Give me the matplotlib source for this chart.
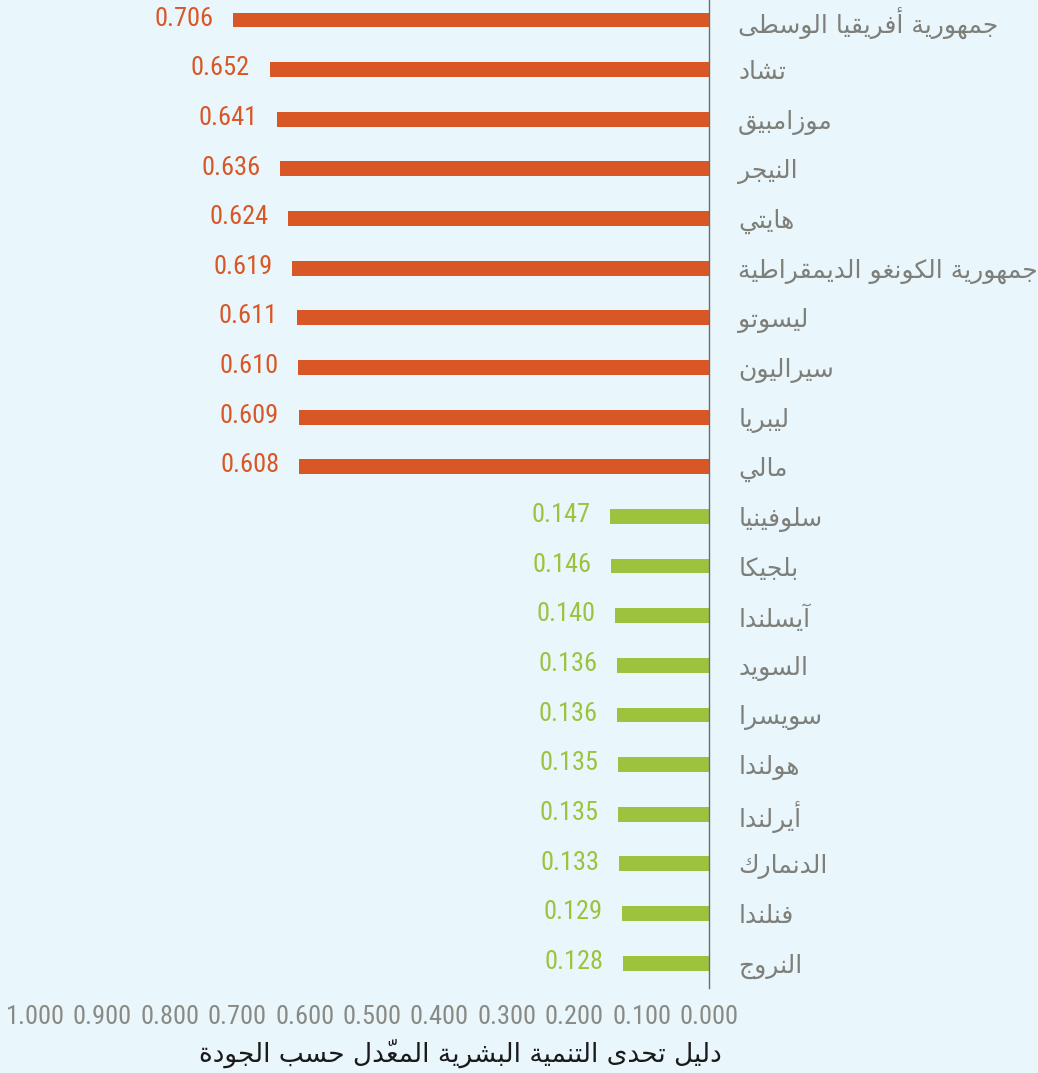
"""Quality-adjusted HDI challenge index: bottom and top ten countries."""

import matplotlib
matplotlib.use("Agg")
import matplotlib.pyplot as plt
from matplotlib import font_manager
from matplotlib.ticker import FixedLocator, FuncFormatter


COUNTRIES = [
    "جمهورية أفريقيا الوسطى",
    "تشاد",
    "موزامبيق",
    "النيجر",
    "هايتي",
    "جمهورية الكونغو الديمقراطية",
    "ليسوتو",
    "سيراليون",
    "ليبريا",
    "مالي",
    "سلوفينيا",
    "بلجيكا",
    "آيسلندا",
    "السويد",
    "سويسرا",
    "هولندا",
    "أيرلندا",
    "الدنمارك",
    "فنلندا",
    "النروج",
]
VALUES = [0.706, 0.652, 0.641, 0.636, 0.624, 0.619, 0.611, 0.610, 0.609, 0.608,
          0.147, 0.146, 0.140, 0.136, 0.136, 0.135, 0.135, 0.133, 0.129, 0.128]
GROUP = ["low"] * 10 + ["high"] * 10
X_TICKS = [1.0, 0.9, 0.8, 0.7, 0.6, 0.5, 0.4, 0.3, 0.2, 0.1, 0.0]
X_LABEL = "دليل تحدى التنمية البشرية المعدّل حسب الجودة"

COLORS = {"low": "#d95726", "high": "#9dc33e"}
BG = "#e9f6fb"


# presentation forms B: first code point (isolated) and number of forms
ARABIC_FORMS = {
    "ء": (0xFE80, 1), "آ": (0xFE81, 2), "أ": (0xFE83, 2), "ؤ": (0xFE85, 2),
    "إ": (0xFE87, 2), "ئ": (0xFE89, 4), "ا": (0xFE8D, 2), "ب": (0xFE8F, 4),
    "ة": (0xFE93, 2), "ت": (0xFE95, 4), "ث": (0xFE99, 4), "ج": (0xFE9D, 4),
    "ح": (0xFEA1, 4), "خ": (0xFEA5, 4), "د": (0xFEA9, 2), "ذ": (0xFEAB, 2),
    "ر": (0xFEAD, 2), "ز": (0xFEAF, 2), "س": (0xFEB1, 4), "ش": (0xFEB5, 4),
    "ص": (0xFEB9, 4), "ض": (0xFEBD, 4), "ط": (0xFEC1, 4), "ظ": (0xFEC5, 4),
    "ع": (0xFEC9, 4), "غ": (0xFECD, 4), "ف": (0xFED1, 4), "ق": (0xFED5, 4),
    "ك": (0xFED9, 4), "ل": (0xFEDD, 4), "م": (0xFEE1, 4), "ن": (0xFEE5, 4),
    "ه": (0xFEE9, 4), "و": (0xFEED, 2), "ى": (0xFEEF, 2), "ي": (0xFEF1, 4),
}
LAM_ALEF = {"آ": 0xFEF5, "أ": 0xFEF7, "إ": 0xFEF9, "ا": 0xFEFB}


def is_mark(ch):
    return 0x064B <= ord(ch) <= 0x065F or ord(ch) == 0x0670


def shape_arabic(text):
    """Join letters into contextual forms and reverse for left-to-right drawing."""
    chars = list(text)
    n = len(chars)

    def neighbour(i, step):
        j = i + step
        while 0 <= j < n and is_mark(chars[j]):
            j += step
        return chars[j] if 0 <= j < n else None

    clusters = []
    i = 0
    while i < n:
        ch = chars[i]
        if is_mark(ch):
            if clusters:
                clusters[-1] += ch
            else:
                clusters.append(ch)
            i += 1
            continue
        if ch not in ARABIC_FORMS:
            clusters.append(ch)
            i += 1
            continue
        prev = neighbour(i, -1)
        nxt = neighbour(i, 1)
        joins_prev = prev in ARABIC_FORMS and ARABIC_FORMS[prev][1] == 4
        if ch == "ل" and nxt in LAM_ALEF:
            clusters.append(chr(LAM_ALEF[nxt] + (1 if joins_prev else 0)))
            i += 2
            continue
        start, nforms = ARABIC_FORMS[ch]
        if nforms == 1:
            clusters.append(chr(start))
            i += 1
            continue
        joins_next = nforms == 4 and nxt in ARABIC_FORMS and ARABIC_FORMS[nxt][1] > 1
        if joins_prev and joins_next:
            form = 3
        elif joins_prev:
            form = 1
        elif joins_next:
            form = 2
        else:
            form = 0
        clusters.append(chr(start + form))
        i += 1
    return "".join(reversed(clusters))


def pick_font(names):
    for name in names:
        try:
            font_manager.findfont(name, fallback_to_default=False)
            return name
        except ValueError:
            continue
    return "DejaVu Sans"


def main():
    num_font = pick_font(["Liberation Sans Narrow", "Roboto Condensed", "Liberation Sans"])
    ar_font = "DejaVu Sans"

    fig = plt.figure(figsize=(10.38, 10.73), dpi=100, facecolor=BG)
    ax = fig.add_axes([35 / 1038, 1 - 988 / 1073, (709 - 35) / 1038, 988 / 1073])
    ax.set_facecolor(BG)

    rows = list(range(len(COUNTRIES)))
    colors = [COLORS[g] for g in GROUP]
    ax.barh(rows, VALUES, height=0.3, color=colors, zorder=2)

    for row, value, color in zip(rows, VALUES, colors):
        ax.annotate(
            f"{value:.3f}",
            xy=(value, row),
            xytext=(-14, 1),
            textcoords="offset points",
            ha="right",
            va="center",
            color=color,
            fontsize=19,
            family=num_font,
        )

    ax.set_xlim(1.0, 0.0)
    ax.set_ylim(19.5, -0.403)
    ax.xaxis.set_major_locator(FixedLocator(X_TICKS))
    ax.xaxis.set_major_formatter(FuncFormatter(lambda v, _p: f"{v:.3f}"))
    for lab in ax.get_xticklabels():
        lab.set_family(num_font)

    ax.yaxis.tick_right()
    ax.set_yticks(rows)
    ax.set_yticklabels([shape_arabic(c) for c in COUNTRIES], family=ar_font)

    ax.tick_params(axis="x", length=0, pad=12, labelsize=19, labelcolor="#8a8a85")
    ax.tick_params(axis="y", length=0, pad=21, labelsize=18, labelcolor="#7f7f7a")

    for side in ("top", "left", "bottom"):
        ax.spines[side].set_visible(False)
    ax.spines["right"].set_color("#6d6d6d")
    ax.spines["right"].set_linewidth(1.0)

    fig.text(
        460 / 1038,
        1 - 1053 / 1073,
        shape_arabic(X_LABEL),
        ha="center",
        va="center",
        fontsize=19,
        color="#1a1a1a",
        family=ar_font,
    )

    fig.savefig("out.png", dpi=100, facecolor=BG)
    plt.close(fig)


if __name__ == "__main__":
    main()
